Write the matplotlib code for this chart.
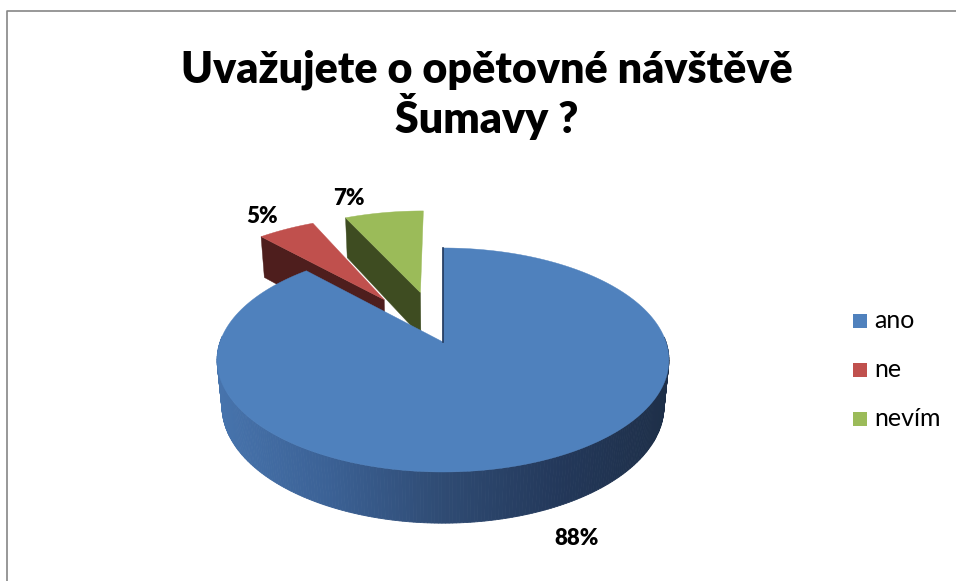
import numpy as np
import matplotlib.pyplot as plt
from matplotlib.patches import Polygon, Rectangle
from matplotlib.colors import to_rgb

plt.rcParams['font.family'] = ['Lato', 'DejaVu Sans']

# ---- data ----
labels = ['ano', 'ne', 'nevím']
values = [88, 5, 7]
pct_labels = ['88%', '5%', '7%']
title_lines = ['Uvažujete o opětovné návštěvě', 'Šumavy ?']

# ---- style ----
top_colors = ['#4F81BD', '#C0504D', '#9BBB59']
wall_colors = ['#2B4468', '#4E1E1D', '#3E4C21']
explode = [0.0, 0.5, 0.5]
side_x = [217, 330, 443, 560, 669]
side_cols = ['#4774AD', '#3B6195', '#2F4B73', '#23385A', '#1E2F48']
label_pos = [(577, 545), (262, 223), (349, 205)]

# simple perspective camera (pixel space)
CX, CY = 443, 342
K = 223
TH = np.radians(29.3)
DIST = 5.43
H = 0.241


def proj(u, v, z):
    d = DIST + v * np.cos(TH) - z * np.sin(TH)
    s = DIST / d
    return CX + K * u * s, CY - K * (v * np.sin(TH) + z * np.cos(TH)) * s


def side_color(x):
    rgb = np.array([to_rgb(c) for c in side_cols])
    return tuple(np.interp(x, side_x, rgb[:, k]) for k in range(3))


fig = plt.figure(figsize=(9.56, 5.81), dpi=100)
ax = fig.add_axes([0, 0, 1, 1])
ax.set_xlim(0, 956)
ax.set_ylim(581, 0)
ax.axis('off')

fr = np.array(values) / sum(values) * 2 * np.pi
edges = np.concatenate([[0], np.cumsum(fr)])


def slice_geom(i):
    a0, a1 = edges[i], edges[i + 1]
    mid = (a0 + a1) / 2
    ou, ov = explode[i] * np.sin(mid), explode[i] * np.cos(mid)
    return a0, a1, ou, ov


def draw_top(i):
    a0, a1, ou, ov = slice_geom(i)
    phi = np.linspace(a0, a1, 200)
    pts = [proj(ou, ov, 0)] + [proj(ou + np.sin(p), ov + np.cos(p), 0) for p in phi]
    ax.add_patch(Polygon(pts, closed=True, facecolor=top_colors[i],
                         edgecolor=top_colors[i], lw=0.3, zorder=3))


def draw_wall(i, a):
    _, _, ou, ov = slice_geom(i)
    u, v = ou + np.sin(a), ov + np.cos(a)
    pts = [proj(ou, ov, 0), proj(u, v, 0), proj(u, v, -H), proj(ou, ov, -H)]
    ax.add_patch(Polygon(pts, closed=True, facecolor=wall_colors[i],
                         edgecolor=wall_colors[i], lw=0.3, zorder=3))


def draw_side(i):
    a0, a1, ou, ov = slice_geom(i)
    phi = np.linspace(a0, a1, 400)
    for p0, p1 in zip(phi[:-1], phi[1:]):
        if np.cos((p0 + p1) / 2) > 0.05:
            continue
        q = [proj(ou + np.sin(p0), ov + np.cos(p0), 0),
             proj(ou + np.sin(p1), ov + np.cos(p1), 0),
             proj(ou + np.sin(p1), ov + np.cos(p1), -H),
             proj(ou + np.sin(p0), ov + np.cos(p0), -H)]
        c = side_color(np.mean([pt[0] for pt in q]))
        ax.add_patch(Polygon(q, closed=True, facecolor=c, edgecolor=c,
                             lw=0.6, zorder=3))


# back to front: ne, nevím, ano
draw_wall(1, edges[1])
draw_top(1)
draw_wall(2, edges[2])
draw_top(2)
draw_side(0)
draw_top(0)
# edge-on start wall of the big slice
x0, y0 = proj(0, 0, 0)
x1, y1 = proj(0, 1, 0)
ax.plot([x0, x1], [y0, y1], color='#22385C', lw=1.2, zorder=4)

for (lx, ly), t in zip(label_pos, pct_labels):
    ax.text(lx, ly, t, fontsize=16, fontweight='heavy', ha='center', va='baseline')

# title
ax.text(487, 83, title_lines[0], fontsize=31, fontweight='heavy', ha='center', va='baseline')
ax.text(487, 133, title_lines[1], fontsize=31, fontweight='heavy', ha='center', va='baseline')

# legend
for k, (lab, col) in enumerate(zip(labels, top_colors)):
    cy = 321 + 49 * k
    ax.add_patch(Rectangle((853, cy - 7), 14, 14, facecolor=col, edgecolor='none'))
    ax.text(874, cy + 7, lab, fontsize=18, ha='left', va='baseline')

# chart border
ax.plot([7, 7, 956], [581, 11, 11], color='#868686', lw=1.2, clip_on=False)

fig.savefig('out.png', dpi=100)
